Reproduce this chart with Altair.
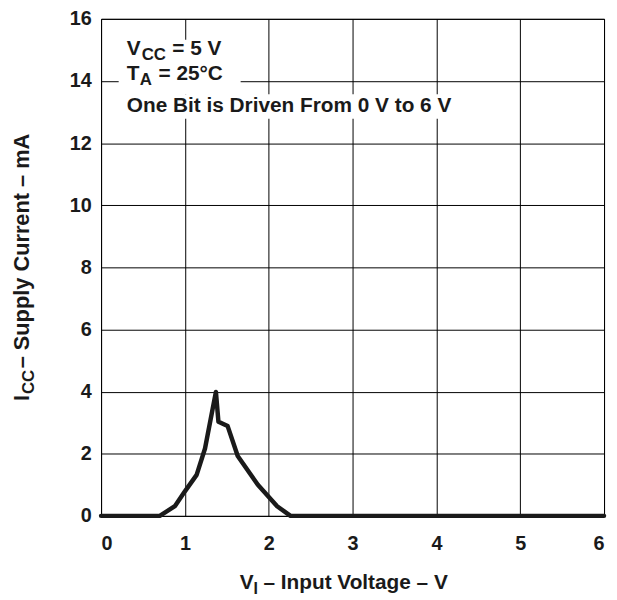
import altair as alt
import pandas as pd

# Curve
vi = [0, 0.70, 0.88, 1.00, 1.14, 1.24, 1.37, 1.40, 1.51, 1.63, 1.87, 2.10, 2.26, 6]
icc = [0, 0, 0.31, 0.79, 1.32, 2.17, 3.99, 3.03, 2.89, 1.93, 1.00, 0.31, 0, 0]

x_ticks = [0, 1, 2, 3, 4, 5, 6]
y_ticks = [0, 2, 4, 6, 8, 10, 12, 14, 16]

FONT = "Liberation Sans"
INK = "#1a1a1a"

curve = pd.DataFrame({"vi": vi, "icc": icc})

xs = alt.Scale(domain=[0, 6], nice=False, zero=False)
ys = alt.Scale(domain=[0, 16], nice=False, zero=False)

line = alt.Chart(curve).mark_line(color=INK, strokeWidth=4.5, strokeCap="round", strokeJoin="round").encode(
    x=alt.X("vi:Q", scale=xs,
            axis=alt.Axis(values=x_ticks, title=None, grid=True, labelPadding=18, format="d")),
    y=alt.Y("icc:Q", scale=ys,
            axis=alt.Axis(values=y_ticks, title=None, grid=True, labelPadding=10, format="d")),
)

# white boxes behind annotation text
boxes = pd.DataFrame({"x1": [0.21, 0.28], "x2": [1.665, 4.28], "y1": [13.57, 12.78], "y2": [15.33, 13.57]})
box = alt.Chart(boxes).mark_rect(color="white").encode(
    x=alt.X("x1:Q", scale=xs), x2="x2:Q", y=alt.Y("y1:Q", scale=ys), y2="y2:Q"
)

ann = pd.DataFrame({
    "x": [0.307, 0.307, 0.307, 0.307, 0.307, 0.307, 0.307],
    "y": [14.82, 14.82, 14.82, 14.02, 14.02, 14.02, 13.0],
    "t": ["V", "CC", "= 5 V", "T", "A", "= 25°C", "One Bit is Driven From 0 V to 6 V"],
    "dx": [0, 15, 46, 0, 13, 32, 0],
    "dy": [0, 5, 0, 0, 5, 0, 0],
    "fs": [21, 17, 21, 21, 17, 21, 21],
})

def seg(row):
    return alt.Chart(pd.DataFrame([row])).mark_text(
        align="left", baseline="alphabetic", font=FONT, fontWeight="bold",
        fontSize=row["fs"], dx=row["dx"], dy=row["dy"], color=INK
    ).encode(x=alt.X("x:Q", scale=xs), y=alt.Y("y:Q", scale=ys), text="t:N")

ann_layers = [seg(r) for r in ann.to_dict("records")]

# axis titles with subscripts
xt = [("V", 0, 0, 21), ("I", 14, 5, 16), ("– Input Voltage – V", 24, 0, 21)]
xtitle = [
    alt.Chart(pd.DataFrame({"t": [t]})).mark_text(
        align="left", baseline="alphabetic", font=FONT, fontWeight="bold", fontSize=fs,
        dx=dx, dy=dy, color=INK
    ).encode(x=alt.value(140), y=alt.value(576), text="t:N")
    for t, dx, dy, fs in xt
]
yt = [("I", 0, 0, 22), ("CC", 7, 5, 17), ("– Supply Current – mA", 33, 0, 22)]
ytitle = [
    alt.Chart(pd.DataFrame({"t": [t]})).mark_text(
        align="left", baseline="alphabetic", font=FONT, fontWeight="bold", fontSize=fs,
        dx=dx, dy=dy, angle=270, color=INK
    ).encode(x=alt.value(-73), y=alt.value(386), text="t:N")
    for t, dx, dy, fs in yt
]

chart = alt.layer(line, box, *ann_layers, *xtitle, *ytitle).properties(
    width=508, height=502,
    autosize=alt.AutoSizeParams(type="none"),
    padding={"left": 94, "top": 8, "right": 5, "bottom": 80},
    background="white",
).configure_view(
    stroke="black", strokeWidth=1
).configure_axis(
    labelFont=FONT, labelFontWeight="bold", labelFontSize=20, labelColor=INK,
    gridColor="black", gridWidth=1, gridOpacity=1,
    ticks=False, tickSize=0, domain=False,
)

chart.save("out.html", embed_options={"renderer": "svg", "actions": False})
